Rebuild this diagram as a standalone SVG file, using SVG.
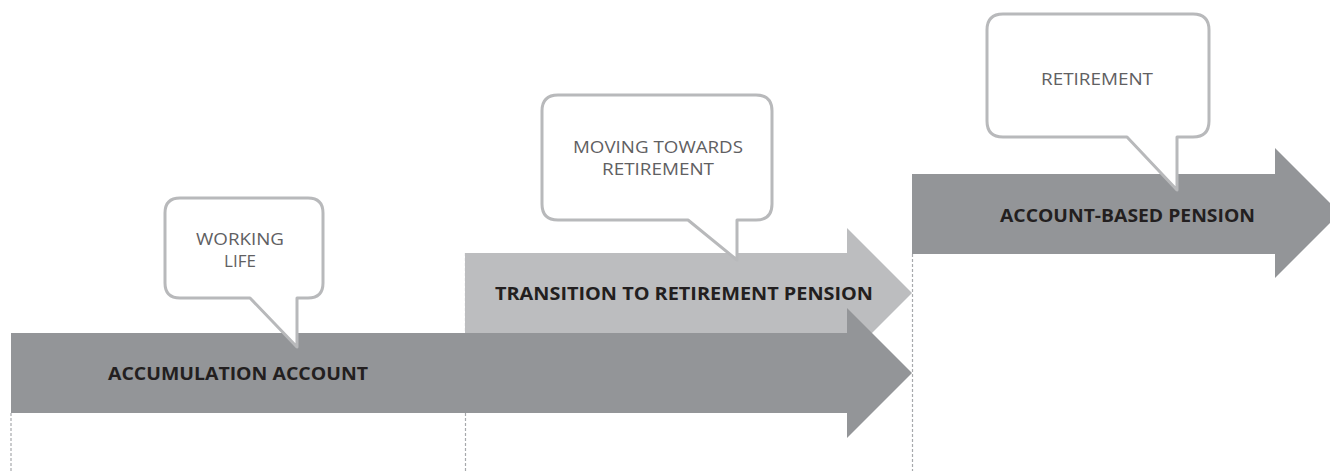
<svg xmlns="http://www.w3.org/2000/svg" width="1330" height="471" viewBox="0 0 1330 471">
<style>
.dark{fill:#939598}
.light{fill:#bcbdbf}
.dash{stroke:#a7a9ac;stroke-width:1.2;stroke-dasharray:3,2;fill:none}
.bubble{fill:#fff;stroke:#b8b9bb;stroke-width:3;stroke-linejoin:round}
.lbl{font-family:"Open Sans","Liberation Sans",sans-serif;font-weight:700;font-size:18px;fill:#231f20}
.note{font-family:"Open Sans","Liberation Sans",sans-serif;font-size:17px;fill:#5f6062;text-anchor:middle}
</style>
<rect width="1330" height="471" fill="#fff"/>
<g id="guides">
<line class="dash" x1="11" y1="413" x2="11" y2="471"/>
<line class="dash" x1="465.5" y1="253" x2="465.5" y2="471"/>
<line class="dash" x1="912.5" y1="254" x2="912.5" y2="471"/>
</g>
<g id="transition">
<path class="light" d="M465 253 H847 V228 L912 293 L847 358 V333 H465 Z"/>
<text class="lbl" x="495" y="300" textLength="378" lengthAdjust="spacingAndGlyphs">TRANSITION TO RETIREMENT PENSION</text>
</g>
<g id="accumulation">
<path class="dark" d="M11 333 H847 V308 L912 373 L847 438 V413 H11 Z"/>
<text class="lbl" x="108" y="380" textLength="260" lengthAdjust="spacingAndGlyphs">ACCUMULATION ACCOUNT</text>
</g>
<g id="account-based">
<path class="dark" d="M912 174 H1275 V148 L1340 213 L1275 278 V254 H912 Z"/>
<text class="lbl" x="1000" y="222" textLength="255" lengthAdjust="spacingAndGlyphs">ACCOUNT-BASED PENSION</text>
</g>
<g id="working-life">
<path class="bubble" d="M180 198 H308 Q323 198 323 213 V283 Q323 298 308 298 H297 V347 L250 298 H180 Q165 298 165 283 V213 Q165 198 180 198 Z"/>
<text class="note" x="240" y="245" textLength="88" lengthAdjust="spacingAndGlyphs">WORKING</text>
<text class="note" x="240" y="267">LIFE</text>
</g>
<g id="moving-towards-retirement">
<path class="bubble" d="M558 95 H756 Q772 95 772 111 V204 Q772 220 756 220 H737 V260 L688 220 H558 Q542 220 542 204 V111 Q542 95 558 95 Z"/>
<text class="note" x="658" y="153" textLength="170" lengthAdjust="spacingAndGlyphs">MOVING TOWARDS</text>
<text class="note" x="658" y="175" textLength="112" lengthAdjust="spacingAndGlyphs">RETIREMENT</text>
</g>
<g id="retirement">
<path class="bubble" d="M1003 14 H1193 Q1209 14 1209 30 V121 Q1209 137 1193 137 H1177 V190 L1127 137 H1003 Q987 137 987 121 V30 Q987 14 1003 14 Z"/>
<text class="note" x="1097" y="85" textLength="112" lengthAdjust="spacingAndGlyphs">RETIREMENT</text>
</g>
</svg>
